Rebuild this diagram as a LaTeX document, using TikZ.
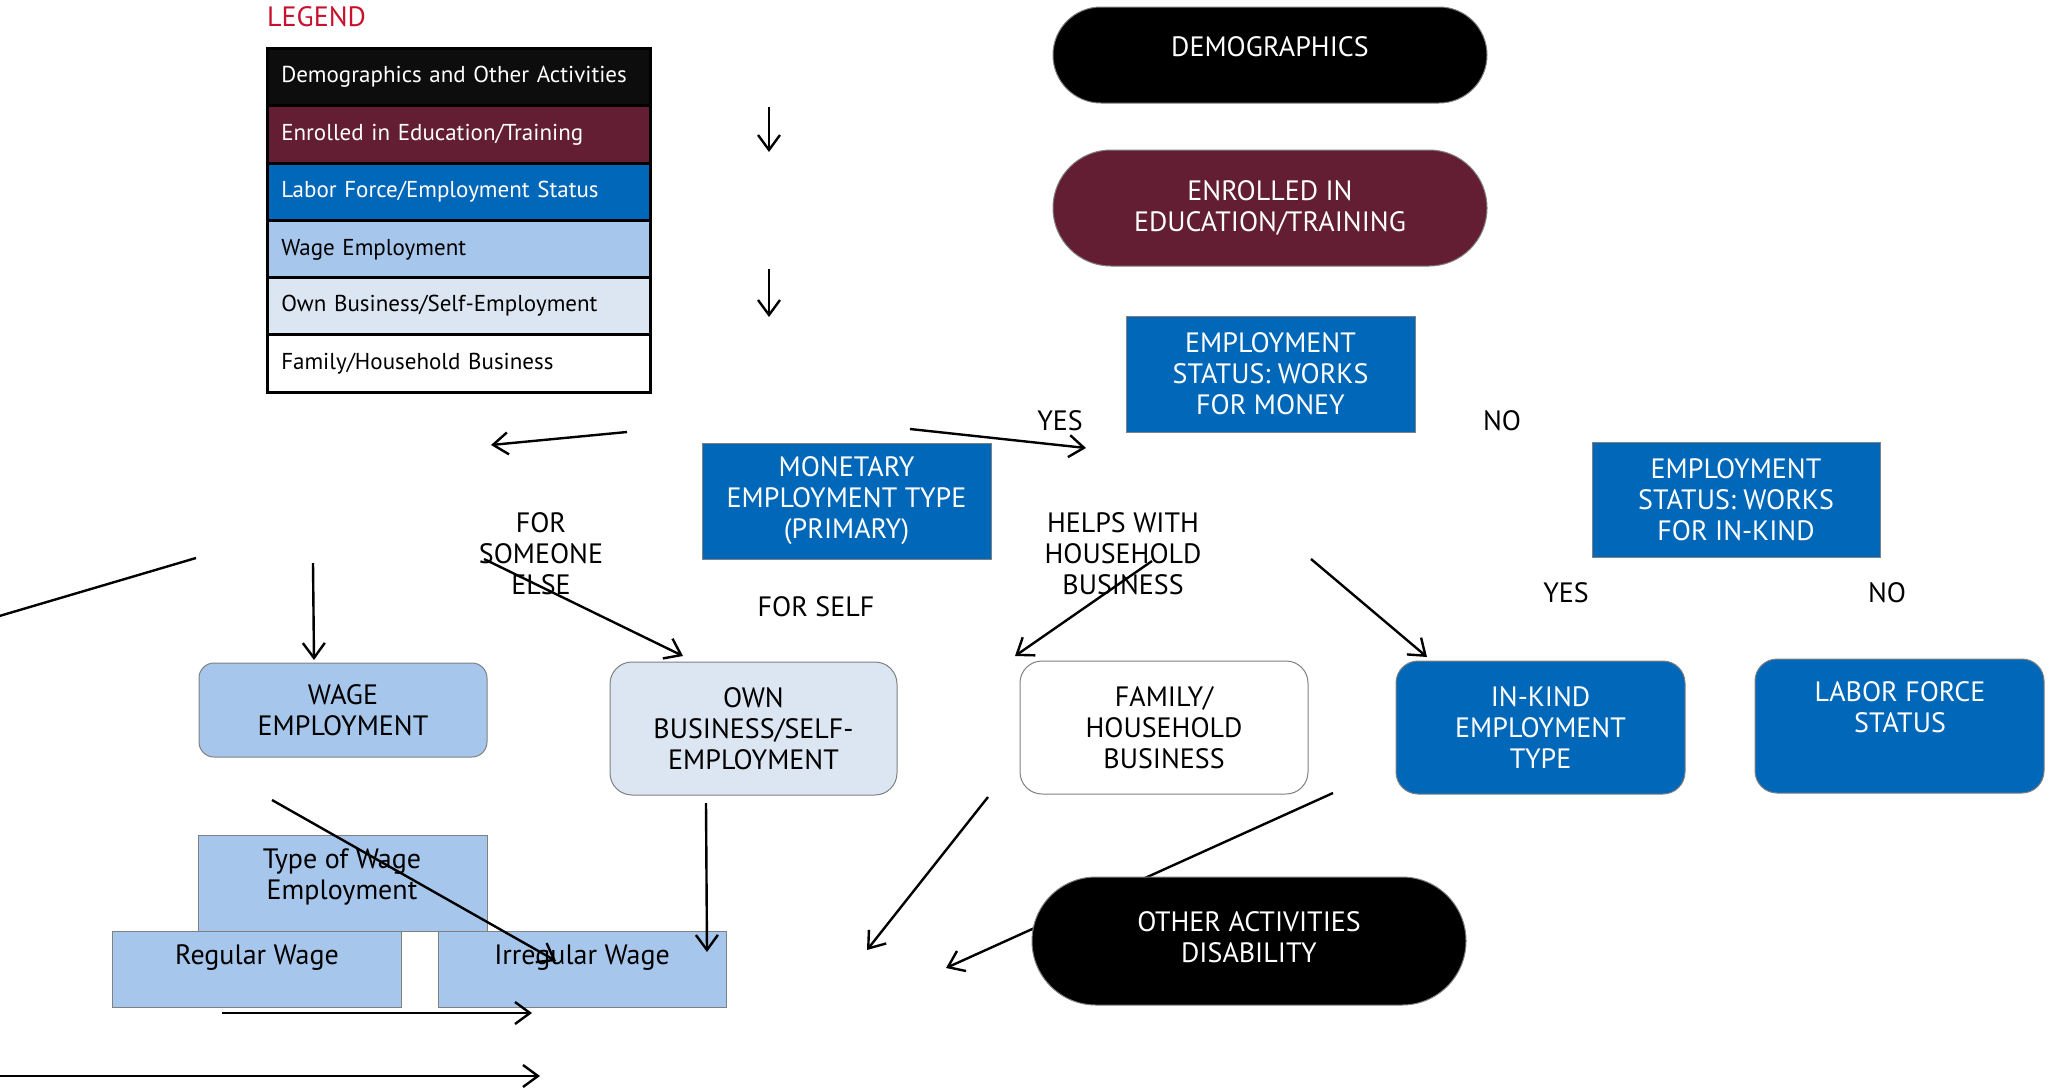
\documentclass[tikz,border=0pt]{standalone}
\usepackage{fontspec}
\setmainfont{PT Sans}
\usetikzlibrary{arrows.meta}
\definecolor{maroonc}{RGB}{99,30,51}
\definecolor{bluec}{RGB}{0,103,185}
\definecolor{lightbluec}{RGB}{167,198,236}
\definecolor{palec}{RGB}{220,230,242}
\definecolor{legblack}{RGB}{13,13,13}
\definecolor{legred}{RGB}{200,16,46}
\definecolor{edgegray}{RGB}{128,128,128}
\begin{document}
\begin{tikzpicture}[x=1pt,y=-1pt,
  capfont/.style={font=\fontsize{28}{31}\selectfont},
  legfont/.style={font=\fontsize{23}{25}\selectfont},
  txt/.style={capfont,align=center,inner sep=0pt},
  wtxt/.style={txt,text=white},
  pill/.style={draw=edgegray,line width=1pt,minimum width=434pt,inner sep=0pt},
  sqbox/.style={draw=edgegray,line width=1pt,fill=bluec,text=white,capfont,align=center,inner sep=0pt},
  rbox/.style={draw=edgegray,line width=1pt,rounded corners=22pt,capfont,align=center,inner sep=0pt},
  legrow/.style={draw=black,line width=2.8pt,minimum width=383pt,minimum height=57.5pt,text width=355pt,inner xsep=14pt,inner ysep=0pt,align=left,legfont},
  arr/.style={draw,line width=2.4pt,-{Straight Barb[length=15pt,width=22pt]}},
  plainline/.style={draw,line width=2.4pt}
]
\useasboundingbox (0,0) rectangle (2053,1087);

% ---------- legend ----------
\node[capfont,text=legred,anchor=west,inner sep=0pt] (legtitle) at (267,17) {LEGEND};
\node[legrow,fill=legblack,text=white] (lg1) at (458.75,77) {Demographics and Other Activities};
\node[legrow,fill=maroonc,text=white] (lg2) at (458.75,134.5) {Enrolled in Education/Training};
\node[legrow,fill=bluec,text=white] (lg3) at (458.75,192) {Labor Force/Employment Status};
\node[legrow,fill=lightbluec] (lg4) at (458.75,249.5) {Wage Employment};
\node[legrow,fill=palec] (lg5) at (458.75,306) {Own Business/Self-Employment};
\node[legrow,fill=white] (lg6) at (458.75,363.5) {Family/Household Business};

% ---------- coordinates for free connectors ----------
\coordinate (a1s) at (769,107);  \coordinate (a1e) at (769,152);
\coordinate (a2s) at (769,269);  \coordinate (a2e) at (769,317);
\coordinate (a3s) at (627,432);  \coordinate (a3e) at (491,445);
\coordinate (a4s) at (910,429);  \coordinate (a4e) at (1086,448);
\coordinate (l5s) at (196,558);  \coordinate (l5e) at (-4,617);
\coordinate (a6s) at (313,563);  \coordinate (a6e) at (314,660);
\coordinate (a7s) at (484,559);  \coordinate (a7e) at (683,656);
\coordinate (a8s) at (1152,561); \coordinate (a8e) at (1015,656);
\coordinate (a9s) at (1311,559); \coordinate (a9e) at (1427,657);
\coordinate (a10s) at (272,800); \coordinate (a10e) at (556,961);
\coordinate (a11s) at (706,803); \coordinate (a11e) at (707,952);
\coordinate (a12s) at (222,1013);\coordinate (a12e) at (532,1013);
\coordinate (a13s) at (-4,1076); \coordinate (a13e) at (540,1076);
\coordinate (a14s) at (988,797); \coordinate (a14e) at (867,950);
\coordinate (a15s) at (1333,793);\coordinate (a15e) at (946,968);

% connector hidden under the OTHER ACTIVITIES pill
\draw[arr] (a15s) -- (a15e);

% ---------- main shapes ----------
\node[pill,fill=black,minimum height=96pt,rounded corners=47.9pt] (demo) at (1270,55) {};
\node[wtxt] (demotxt) at (1270,47) {DEMOGRAPHICS};
\node[pill,fill=maroonc,minimum height=116pt,rounded corners=57.9pt,wtxt] (enrol) at (1270,208) {ENROLLED IN\\EDUCATION/TRAINING};
\node[sqbox,minimum width=289pt,minimum height=116pt] (money) at (1270.5,374) {EMPLOYMENT\\STATUS: WORKS\\FOR MONEY};
\node[sqbox,minimum width=289pt,minimum height=116pt] (monet) at (846.5,501) {MONETARY\\EMPLOYMENT TYPE\\(PRIMARY)};
\node[sqbox,minimum width=288pt,minimum height=115pt] (inkstat) at (1736,499.5) {EMPLOYMENT\\STATUS: WORKS\\FOR IN-KIND};

\node[rbox,fill=lightbluec,rounded corners=15pt,minimum width=288pt,minimum height=94pt] (wage) at (343,710) {WAGE\\EMPLOYMENT};
\node[rbox,fill=palec,minimum width=287pt,minimum height=133pt] (own) at (753.5,728.5) {OWN\\BUSINESS/SELF-\\EMPLOYMENT};
\node[rbox,fill=white,minimum width=288pt,minimum height=133pt] (family) at (1164,727.5) {FAMILY/\\HOUSEHOLD\\BUSINESS};
\node[rbox,fill=bluec,text=white,minimum width=289pt,minimum height=133pt] (inkind) at (1540.5,727.5) {IN-KIND\\EMPLOYMENT\\TYPE};
\node[rbox,fill=bluec,minimum width=289pt,minimum height=134pt] (lfs) at (1899.5,726) {};
\node[wtxt] (lfstxt) at (1900,707) {LABOR FORCE\\STATUS};

\node[draw=edgegray,line width=1pt,fill=lightbluec,minimum width=289pt,minimum height=96pt,inner sep=0pt] (typewage) at (342.5,883) {};
\node[txt] (typewagetxt) at (342,877) {Type of Wage\\Employment};
\node[draw=edgegray,line width=1pt,fill=lightbluec,minimum width=289pt,minimum height=76pt,inner sep=0pt] (regular) at (256.5,969) {};
\node[txt] (regulartxt) at (257,958) {Regular Wage};
\node[draw=edgegray,line width=1pt,fill=lightbluec,minimum width=288pt,minimum height=76pt,inner sep=0pt] (irregular) at (582,969) {};
\node[txt] (irregulartxt) at (582,958) {Irregular Wage};

\node[pill,fill=black,minimum height=128pt,rounded corners=63.9pt] (other) at (1249,941) {};
\node[wtxt] (othertxt) at (1249,937) {OTHER ACTIVITIES\\DISABILITY};

% ---------- labels ----------
\node[txt] (yes1) at (1060,421) {YES};
\node[txt] (no1) at (1502,421) {NO};
\node[txt] (forsomeone) at (541,554) {FOR\\SOMEONE\\ELSE};
\node[txt] (helps) at (1123,554) {HELPS WITH\\HOUSEHOLD\\BUSINESS};
\node[txt] (forself) at (816,607) {FOR SELF};
\node[txt] (yes2) at (1566,593) {YES};
\node[txt] (no2) at (1887,593) {NO};

% ---------- connectors ----------
\draw[arr] (a1s) -- (a1e);
\draw[arr] (a2s) -- (a2e);
\draw[arr] (a3s) -- (a3e);
\draw[arr] (a4s) -- (a4e);
\draw[plainline] (l5s) -- (l5e);
\draw[arr] (a6s) -- (a6e);
\draw[arr] (a7s) -- (a7e);
\draw[arr] (a8s) -- (a8e);
\draw[arr] (a9s) -- (a9e);
\draw[arr] (a10s) -- (a10e);
\draw[arr] (a11s) -- (a11e);
\draw[arr] (a12s) -- (a12e);
\draw[arr] (a13s) -- (a13e);
\draw[arr] (a14s) -- (a14e);
\end{tikzpicture}
\end{document}
